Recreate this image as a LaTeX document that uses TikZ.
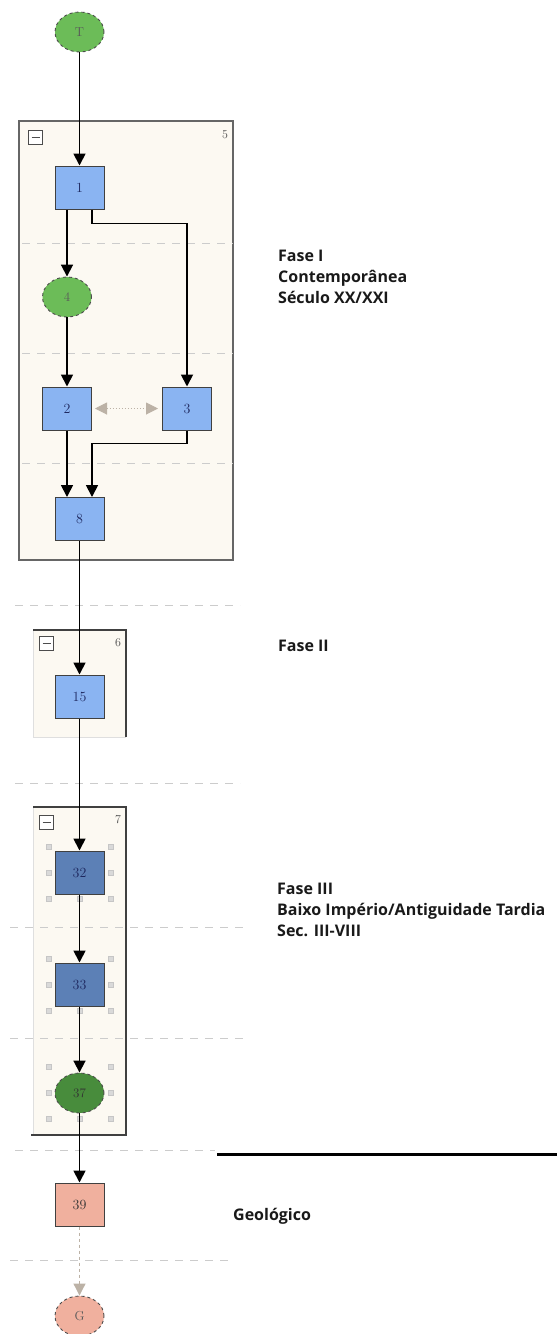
\documentclass[tikz,border=0pt]{standalone}
\usepackage{fontspec}
\setsansfont{Open Sans}
\usetikzlibrary{arrows.meta,positioning,shapes.geometric}
\definecolor{taskblue}{RGB}{138,180,242}
\definecolor{taskdark}{RGB}{92,128,182}
\definecolor{evgreen}{RGB}{108,188,88}
\definecolor{evdark}{RGB}{72,140,60}
\definecolor{geosalmon}{RGB}{240,176,158}
\definecolor{groupfill}{RGB}{252,249,242}
\definecolor{labelnavy}{RGB}{30,40,95}
\definecolor{linkgray}{RGB}{188,178,166}
% small grey grips round a selected item
\newcommand{\selhandles}[1]{%
  \foreach \hx/\hy in {-31/-26,31/-26,-31/0,31/0,-31/26,0/26,31/26}
    \filldraw[fill=gray!30, draw=gray!45] ([shift={(\hx-2.5,\hy-2.5)}]#1.center) rectangle ++(5,5);}

\begin{document}
\begin{tikzpicture}[x=1pt, y=-1pt, >={Triangle[width=12pt,length=12pt]},
  task/.style={draw=black!75, line width=1pt, fill=taskblue, minimum width=49pt, minimum height=43pt,
    inner sep=0pt, font=\fontsize{14}{14}\selectfont, text=labelnavy},
  taskdk/.style={task, fill=taskdark},
  geo/.style={task, fill=geosalmon, text=black!80},
  event/.style={ellipse, draw=black!70, dashed, line width=0.9pt, fill=evgreen, minimum width=49pt,
    minimum height=40pt, inner sep=0pt, font=\fontsize{13}{13}\selectfont, text=black!65},
  flow/.style={->, line width=1.8pt, black},
  dualflow/.style={<->, linkgray, line width=1pt, dotted, shorten <=3pt, shorten >=4pt},
  geoflow/.style={->, linkgray, line width=1pt, dashed},
  sep/.style={draw=gray!40, line width=1pt, dash pattern=on 8pt off 7pt},
  grp/.style={fill=groupfill, draw=black!60, line width=1.2pt},
  grpedge/.style={draw=black!75, line width=1.4pt},
  minusbox/.style={draw=black!70, fill=white, line width=0.8pt, minimum size=14pt, inner sep=0pt,
    path picture={\draw[black!70, line width=1pt] ([xshift=-4pt]path picture bounding box.center)
      -- ([xshift=4pt]path picture bounding box.center);}},
  grpnum/.style={font=\fontsize{12}{12}\selectfont, text=black!70, inner sep=0pt},
  phase/.style={anchor=north west, align=left, font=\sffamily\bfseries\fontsize{16}{21}\selectfont,
    text=black!90, inner sep=0pt}]
  \useasboundingbox (0,0) rectangle (557,1334);

  % groups
  \filldraw[grp] (19,121) rectangle (233,560);
  \fill[groupfill] (33,630) rectangle (126,737);
  \draw[gray!25] (33,630) -- (33,737) -- (126,737);
  \draw[grpedge] (33,630) -- (126,630) -- (126,737);
  \fill[groupfill] (33,807) rectangle (126,1135);
  \draw[gray!25] (33,807) -- (33,1135);
  \draw[grpedge] (33,807) -- (126,807) -- (126,1135) -- (31,1135);

  % phase separators
  \draw[sep] (22,243) -- (233,243);
  \draw[sep] (22,353) -- (233,353);
  \draw[sep] (22,463) -- (233,463);
  \draw[sep] (15,605) -- (240,605);
  \draw[sep] (15,783) -- (240,783);
  \draw[sep] (10,927) -- (245,927);
  \draw[sep] (10,1038) -- (245,1038);
  \draw[sep] (15,1150) -- (215,1150);
  \draw[sep] (10,1260) -- (230,1260);
  \draw[line width=3pt] (217,1154) -- (557,1154);

  \node[minusbox] (min5) at (35.5,137.5) {};
  \node[minusbox] (min6) at (46.5,643.5) {};
  \node[minusbox] (min7) at (46.5,822) {};
  \node[grpnum] (num5) at (225,135) {5};
  \node[grpnum] (num6) at (118,643) {6};
  \node[grpnum] (num7) at (118,820) {7};

  % units
  \node[event] (eT) at (79.5,32) {T};
  \node[task] (t1) at (79.5,187.5) {1};
  \node[event] (e4) at (67,297) {4};
  \node[task] (t2) at (67,408.5) {2};
  \node[task, right=70pt of t2] (t3) {3};
  \node[task] (t8) at (79.5,519) {8};
  \node[task] (t15) at (79.5,696.5) {15};
  \node[taskdk] (t32) at (79.5,872.5) {32};
  \node[taskdk, below=68pt of t32] (t33) {33};
  \node[event, fill=evdark, text=black!80] (e37) at (79.5,1093) {37};
  \node[geo] (t39) at (79.5,1204.5) {39};
  \node[event, fill=geosalmon] (eG) at (79.5,1316) {G};

  \selhandles{t32}
  \selhandles{t33}
  \selhandles{e37}

  % relations
  \draw[flow] (eT) -- (t1);
  \draw[flow] (t1.south -| e4) -- (e4);
  \draw[flow] ([xshift=12.5pt]t1.south) -- ++(0,14) -| (t3);
  \draw[flow] (e4) -- (t2);
  \draw[dualflow] (t2) -- (t3);
  \draw[flow] (t2) -- (t2 |- t8.north);
  \draw[flow] (t3.south) -- ++(0,13) -| ([xshift=12.5pt]t8.north);
  \draw[flow] (t8) -- (t15);
  \draw[flow] (t15) -- (t32);
  \draw[flow] (t32) -- (t33);
  \draw[flow] (t33) -- (e37);
  \draw[flow] (e37) -- (t39);
  \draw[geoflow] (t39) -- (eG);

  % phase notes
  \node[phase] (fase1) at (278,250) {Fase I\\Contemporânea\\Século XX/XXI};
  \node[phase, anchor=base west] (fase2) at (278,651.5) {Fase II};
  \node[phase] (fase3) at (277,882.5) {Fase III\\Baixo Império/Antiguidade Tardia\\Sec. III-VIII};
  \node[phase, anchor=base west] (geol) at (233,1220) {Geológico};
\end{tikzpicture}
\end{document}
